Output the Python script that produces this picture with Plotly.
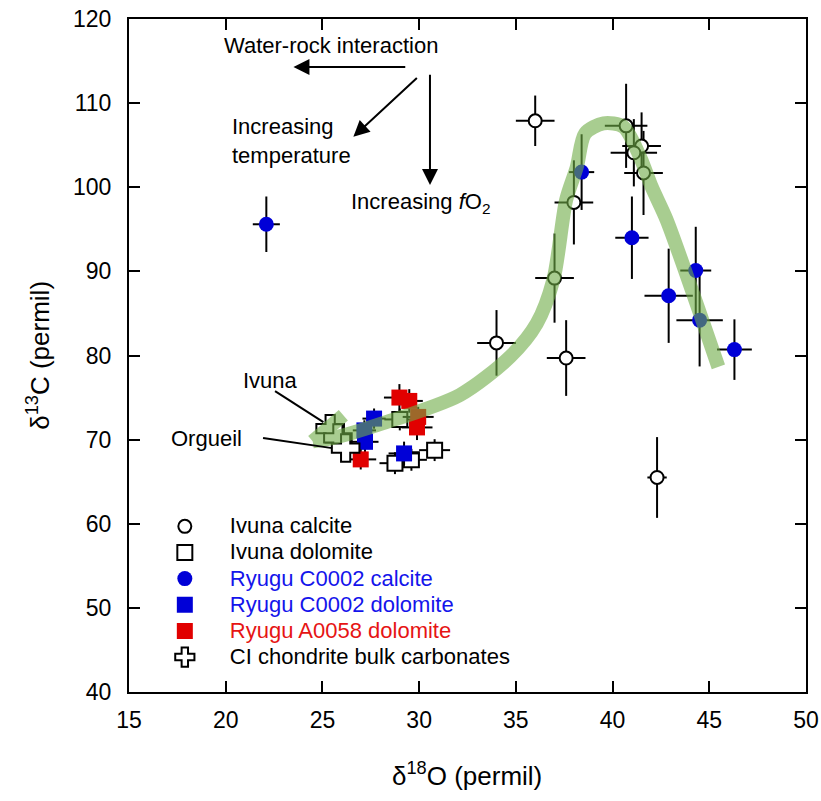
import plotly.graph_objects as go

# ---------------- data ----------------
# Ivuna calcite (open circles)
ivc_x = [36.0, 40.7, 41.5, 41.1, 41.6, 38.0, 37.0, 34.0, 37.6, 42.3]
ivc_y = [107.9, 107.3, 104.9, 104.1, 101.7, 98.2, 89.2, 81.5, 79.7, 65.5]
ivc_ex = [1.0, 1.1, 1.0, 1.2, 1.0, 1.0, 1.0, 1.0, 1.0, 0.5]
ivc_ey = [3.0, 5.0, 4.0, 4.0, 5.0, 5.0, 5.3, 3.9, 4.5, 4.8]

# Ivuna dolomite (open squares)
ivd_x = [29.0, 30.8, 28.75, 29.6]
ivd_y = [72.4, 68.75, 67.2, 67.6]
ivd_ex = [0.8, 0.8, 0.8, 0.8]
ivd_ey = [1.3, 1.3, 1.3, 1.3]

# Ryugu C0002 calcite (blue circles)
rcc_x = [22.1, 38.4, 41.0, 44.3, 42.9, 44.5, 46.3]
rcc_y = [95.6, 101.8, 94.0, 90.1, 87.1, 84.2, 80.7]
rcc_ex = [0.7, 0.65, 0.86, 0.8, 1.25, 1.2, 0.9]
rcc_ey = [3.3, 4.5, 4.9, 5.2, 5.6, 5.5, 3.6]

# Ryugu C0002 dolomite (blue squares)
rcd_x = [27.67, 27.17, 27.2, 29.22]
rcd_y = [72.5, 71.1, 69.74, 68.36]
rcd_ex = [0.6, 0.6, 0.7, 0.8]
rcd_ey = [1.2, 1.2, 1.3, 1.4]

# Ryugu A0058 dolomite (red squares)
rad_x = [29.95, 28.98, 29.49, 29.89, 26.98]
rad_y = [72.7, 75.0, 74.6, 71.45, 67.65]
rad_ex = [0.8, 0.8, 0.7, 0.8, 0.8]
rad_ey = [1.2, 1.6, 1.4, 1.5, 1.2]

# CI chondrite bulk carbonates (crosses)
ci_x = [25.4, 25.8, 26.2]
ci_y = [71.3, 70.2, 69.0]

# model curve (green band)
curve_x = [26.08, 24.5, None, 24.5, 25.55, 28.13, 32.1, 34.7, 36.08, 36.94, 37.6,
           38.15, 38.58, 39.53, 40.56, 41.42, 42.02, 42.8, 44.52, 45.47]
curve_y = [72.9, 69.8, None, 69.8, 70.2, 71.95, 75.3, 79.85, 83.8, 89.0, 98.5,
           102.4, 106.4, 107.6, 107.2, 103.6, 100.05, 96.1, 85.0, 78.65]

x_ticks = [15, 20, 25, 30, 35, 40, 45, 50]
y_ticks = [40, 50, 60, 70, 80, 90, 100, 110, 120]

FONT = "Liberation Sans, Arial, sans-serif"
BLUE = "rgb(0,0,215)"
RED = "rgb(225,0,0)"
LEG = "<span style='font-size:22px;{}'>{}</span>"

fig = go.Figure()

def err(a):
    return dict(type="data", array=a, visible=True, thickness=2, width=0, color="black")

fig.add_trace(go.Scatter(
    x=ivc_x, y=ivc_y, mode="markers", name=LEG.format("", "Ivuna calcite"),
    error_x=err(ivc_ex), error_y=err(ivc_ey),
    marker=dict(symbol="circle", size=13, color="white", line=dict(color="black", width=2))))
fig.add_trace(go.Scatter(
    x=ivd_x, y=ivd_y, mode="markers", name=LEG.format("", "Ivuna dolomite"),
    error_x=err(ivd_ex), error_y=err(ivd_ey),
    marker=dict(symbol="square", size=15, color="white", line=dict(color="black", width=2))))
fig.add_trace(go.Scatter(
    x=rcc_x, y=rcc_y, mode="markers",
    name=LEG.format("color:rgb(20,20,235)", "Ryugu C0002 calcite"),
    error_x=err(rcc_ex), error_y=err(rcc_ey),
    marker=dict(symbol="circle", size=15, color=BLUE, line=dict(width=0))))
fig.add_trace(go.Scatter(
    x=rcd_x, y=rcd_y, mode="markers",
    name=LEG.format("color:rgb(20,20,235)", "Ryugu C0002 dolomite"),
    error_x=err(rcd_ex), error_y=err(rcd_ey),
    marker=dict(symbol="square", size=16, color=BLUE, line=dict(width=0))))
fig.add_trace(go.Scatter(
    x=rad_x, y=rad_y, mode="markers",
    name=LEG.format("color:rgb(230,20,20)", "Ryugu A0058 dolomite"),
    error_x=err(rad_ex), error_y=err(rad_ey),
    marker=dict(symbol="square", size=16, color=RED, line=dict(width=0))))
fig.add_trace(go.Scatter(
    x=ci_x, y=ci_y, mode="markers", name=LEG.format("", "CI chondrite bulk carbonates"),
    marker=dict(symbol="cross", size=23, color="white", line=dict(color="black", width=2))))

fig.add_trace(go.Scatter(
    x=curve_x, y=curve_y, mode="lines", showlegend=False, connectgaps=False,
    line=dict(color="rgb(112,173,71)", width=14, shape="spline", smoothing=0.8),
    opacity=0.6, hoverinfo="skip"))

# arrows
arrow_common = dict(xref="x", yref="y", axref="x", ayref="y", text="", showarrow=True,
                    arrowhead=2, arrowsize=1.6, arrowwidth=2, arrowcolor="black")
fig.add_annotation(x=23.5, y=114.3, ax=29.36, ay=114.3, **arrow_common)
fig.add_annotation(x=26.6, y=106.0, ax=29.96, ay=113.14, **arrow_common)
fig.add_annotation(x=30.56, y=100.26, ax=30.56, ay=113.54, **arrow_common)

txt = dict(xref="x", yref="y", showarrow=False, font=dict(family=FONT, size=22, color="black"))
fig.add_annotation(x=25.44, y=116.8, text="Water-rock interaction", xanchor="center", **txt)
fig.add_annotation(x=20.22, y=105.5, text="Increasing<br>temperature", xanchor="left", align="left", **txt)
fig.add_annotation(x=26.38, y=98.1, text="Increasing <i>f</i>O<sub>2</sub>", xanchor="left", **txt)
fig.add_annotation(x=22.29, y=77.07, text="Ivuna", xanchor="center", **txt)
fig.add_annotation(x=19.03, y=70.18, text="Orgueil", xanchor="center", **txt)

fig.add_shape(type="line", xref="x", yref="y", x0=22.55, y0=75.77, x1=25.05, y1=72.08,
              line=dict(color="black", width=2))
fig.add_shape(type="line", xref="x", yref="y", x0=21.93, y0=70.18, x1=25.5, y1=68.99,
              line=dict(color="black", width=2))

# axis titles
fig.add_annotation(xref="paper", yref="paper", x=0.499, y=-0.123, showarrow=False,
                   text="δ<sup>18</sup>O (permil)", xanchor="center", yanchor="middle",
                   font=dict(family=FONT, size=26, color="black"))
fig.add_annotation(xref="paper", yref="paper", x=-0.134, y=0.5, showarrow=False,
                   text="δ<sup>13</sup>C (permil)", textangle=-90, xanchor="center", yanchor="middle",
                   font=dict(family=FONT, size=26, color="black"))

axis_common = dict(showline=True, linewidth=2, linecolor="black", mirror="ticks",
                   ticks="inside", ticklen=11, tickwidth=2, tickcolor="black",
                   showgrid=False, zeroline=False, automargin=False,
                   tickfont=dict(family=FONT, size=23, color="black"))

fig.update_xaxes(range=[15, 50], tickvals=x_ticks, ticktext=[str(v) for v in x_ticks],
                 ticklabelstandoff=6, **axis_common)
fig.update_yaxes(range=[40, 120], tickvals=y_ticks, ticktext=[str(v) for v in y_ticks],
                 ticklabelstandoff=11, **axis_common)

fig.update_layout(
    width=821, height=801,
    margin=dict(l=129, r=15, t=19, b=109, autoexpand=False),
    paper_bgcolor="white", plot_bgcolor="white",
    font=dict(family=FONT, color="black"),
    showlegend=True,
    legend=dict(x=0.016, y=0.273, xanchor="left", yanchor="top",
                bgcolor="rgba(0,0,0,0)", borderwidth=0,
                font=dict(family=FONT, size=17.8, color="black"),
                tracegroupgap=0, itemsizing="trace", itemwidth=80),
)

# remove the default 8 px page margin so the figure fills the window exactly
fig.write_html("out.html", config={"displayModeBar": False},
               post_script="document.body.style.margin='0';")
